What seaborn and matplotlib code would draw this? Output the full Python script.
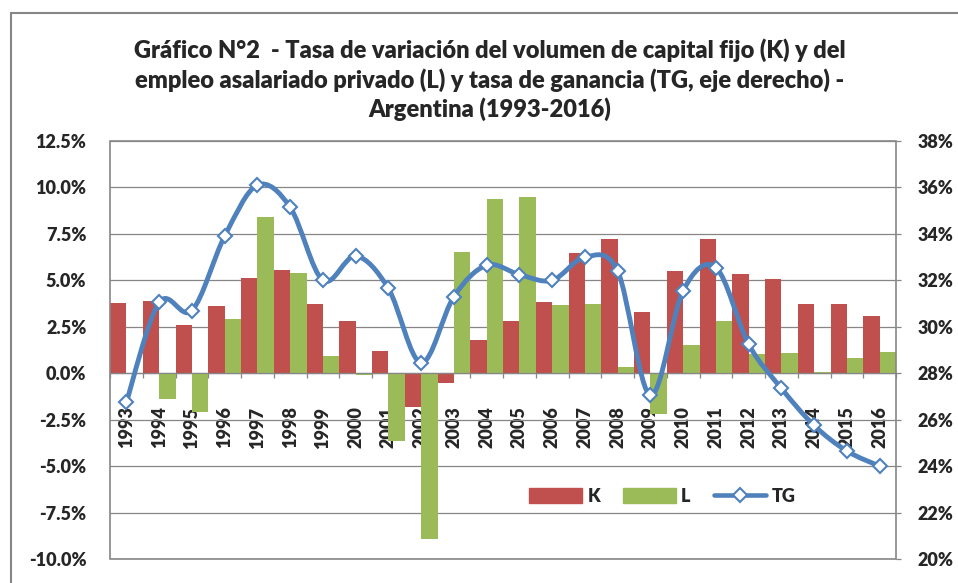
import matplotlib
matplotlib.use("Agg")
import matplotlib.pyplot as plt
import matplotlib.patches as mpatches
from matplotlib.path import Path
from matplotlib.lines import Line2D
import numpy as np
import pandas as pd
import seaborn as sns

# Datos
anios = [str(a) for a in range(1993, 2017)]
k_vals = [3.8, 3.9, 2.6, 3.6, 5.1, 5.55, 3.7, 2.8, 1.2, -1.8, -0.55, 1.8,
          2.8, 3.85, 6.45, 7.2, 3.3, 5.5, 7.25, 5.35, 5.05, 3.7, 3.7, 3.1]
l_vals = [0.0, -1.4, -2.1, 2.9, 8.4, 5.4, 0.95, -0.1, -3.65, -8.9, 6.55, 9.4,
          9.5, 3.65, 3.75, 0.35, -2.2, 1.5, 2.8, 1.05, 1.1, 0.05, 0.8, 1.15]
tg_vals = [26.75, 31.05, 30.7, 33.9, 36.1, 35.15, 32.0, 33.05, 31.65, 28.45, 31.3, 32.65,
           32.25, 32.0, 33.0, 32.4, 27.05, 31.55, 32.55, 29.25, 27.35, 25.75, 24.65, 24.0]

rojo = "#C0504D"
verde = "#9BBB59"
azul = "#4F81BD"
gris = "#868686"
peso = 'heavy'

sns.set_theme(style="white")
plt.rcParams['font.family'] = ['Lato', 'DejaVu Sans']
plt.rcParams['font.weight'] = peso

df = pd.DataFrame({
    'Año': anios * 2,
    'Serie': ['K'] * len(anios) + ['L'] * len(anios),
    'Valor': k_vals + l_vals,
})

fig = plt.figure(figsize=(9.58, 5.83), dpi=100)
ax = fig.add_axes([110 / 958, 1 - 559 / 583, 786 / 958, 418 / 583])

sns.barplot(data=df, x='Año', y='Valor', hue='Serie', palette=[rojo, verde],
            width=1.0, saturation=1, linewidth=0, ax=ax, legend=False)

n = len(anios)
ax.set_xlim(-0.5, n - 0.5)
ax.set_ylim(-10, 12.5)
ax.set_yticks(np.arange(-10, 12.6, 2.5))
ax.set_yticklabels([f"{v:.1f}%" for v in np.arange(-10, 12.6, 2.5)])
ax.yaxis.grid(True, color=gris, linewidth=0.9)
ax.set_axisbelow(True)
ax.set_xlabel('')
ax.set_ylabel('')

# eje x en el cero
ax.spines['bottom'].set_position(('data', 0))
ax.spines['bottom'].set_color(gris)
ax.spines['bottom'].set_linewidth(0.9)
for s in ['top', 'left', 'right']:
    ax.spines[s].set_visible(False)
ax.add_patch(mpatches.Rectangle((0, 0), 1, 1, transform=ax.transAxes, fill=False,
                                edgecolor=gris, linewidth=1.2, clip_on=False, zorder=5))

ax.set_xticks(np.arange(-0.5, n, 1.0))
ax.set_xticklabels([])
ax.set_xticks(np.arange(n), minor=True)
ax.set_xticklabels(anios, minor=True, rotation=90, fontsize=13, fontweight=peso)
ax.tick_params(axis='x', which='major', direction='out', length=3.5, width=0.9,
               color=gris, bottom=True)
ax.tick_params(axis='x', which='minor', length=0, pad=24, bottom=True)
ax.tick_params(axis='y', length=0, pad=17, labelsize=13)
for t in ax.get_yticklabels():
    t.set_fontweight(peso)

# eje derecho: tasa de ganancia con línea suavizada
ax2 = ax.twinx()
ax2.set_ylim(20, 38)
ax2.set_yticks(np.arange(20, 38.1, 2))
ax2.set_yticklabels([f"{int(v)}%" for v in np.arange(20, 38.1, 2)])
ax2.tick_params(axis='y', direction='out', length=3.5, width=0.9, color=gris,
                pad=12, labelsize=13, right=True)
for t in ax2.get_yticklabels():
    t.set_fontweight(peso)
for s in ax2.spines.values():
    s.set_visible(False)
ax2.grid(False)

pts = np.column_stack([np.arange(n), tg_vals])
verts = [pts[0]]
codes = [Path.MOVETO]
for i in range(n - 1):
    p0 = pts[i - 1] if i > 0 else pts[i]
    p1 = pts[i]
    p2 = pts[i + 1]
    p3 = pts[i + 2] if i + 2 < n else pts[i + 1]
    verts += [p1 + (p2 - p0) / 6, p2 - (p3 - p1) / 6, p2]
    codes += [Path.CURVE4] * 3
ax2.add_patch(mpatches.PathPatch(Path(verts, codes), fill=False, edgecolor=azul,
                                 linewidth=3.5, capstyle='round', joinstyle='round', zorder=3))
ax2.plot(np.arange(n), tg_vals, linestyle='none', marker='D', markersize=7,
         markerfacecolor='white', markeredgecolor=azul, markeredgewidth=1.5, zorder=4)

# leyenda
handles = [mpatches.Patch(color=rojo), mpatches.Patch(color=verde),
           Line2D([], [], color=azul, linewidth=3.3, marker='D', markersize=7,
                  markerfacecolor='white', markeredgecolor=azul, markeredgewidth=1.5)]
ax2.legend(handles, ['K', 'L', 'TG'], ncol=3, frameon=False, loc='center',
           bbox_to_anchor=(0.703, 0.15), prop={'weight': peso, 'size': 13},
           handlelength=2.9, handleheight=0.9, columnspacing=1.3, handletextpad=0.3)

fig.text(490 / 958, 1 - 80 / 583,
         "Gráfico N°2  - Tasa de variación del volumen de capital fijo (K) y del\n"
         "empleo asalariado privado (L) y tasa de ganancia (TG, eje derecho) -\n"
         "Argentina (1993-2016)",
         ha='center', va='center', fontsize=17, fontweight=peso, linespacing=1.3)

# marco del área del gráfico
fig.patches.append(mpatches.Rectangle((11 / 958, -0.1), 1.2, 1 - 13 / 583 + 0.1,
                                      transform=fig.transFigure, fill=False,
                                      edgecolor=gris, linewidth=1.5))

fig.savefig("out.png", dpi=100)
